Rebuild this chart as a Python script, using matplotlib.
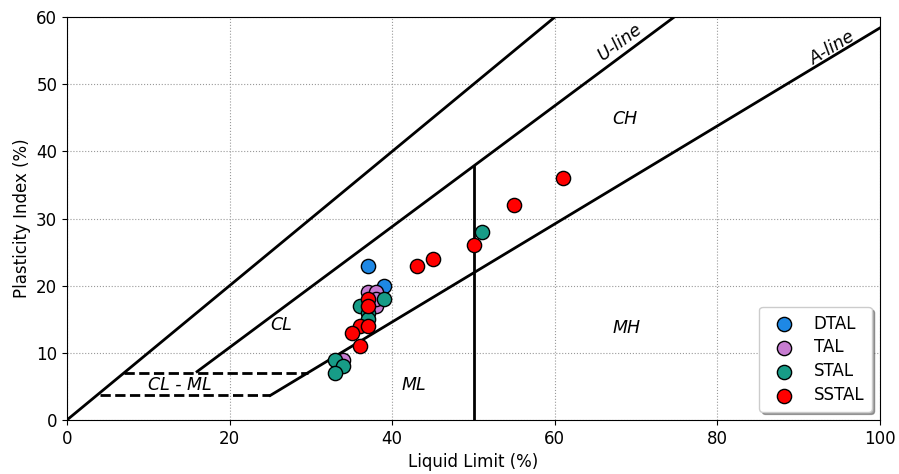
import matplotlib
matplotlib.use("Agg")
import matplotlib.pyplot as plt
import numpy as np

# liquid limit / plasticity index per group
dtal_ll = [37, 39]
dtal_pi = [23, 20]
tal_ll = [37, 38, 38, 38, 34]
tal_pi = [19, 19, 17, 18, 9]
stal_ll = [39, 36, 37, 37, 33, 34, 33, 51]
stal_pi = [18, 17, 16, 15, 9, 8, 7, 28]
sstal_ll = [37, 37, 36, 35, 37, 36, 43, 45, 50, 55, 61]
sstal_pi = [18, 17, 14, 13, 14, 11, 23, 24, 26, 32, 36]

groups = [
    ("DTAL", dtal_ll, dtal_pi, "#1e88e5"),
    ("TAL", tal_ll, tal_pi, "#c77cd1"),
    ("STAL", stal_ll, stal_pi, "#179c87"),
    ("SSTAL", sstal_ll, sstal_pi, "#ff0000"),
]

fig = plt.figure(figsize=(8.99, 4.74), dpi=100)
ax = fig.add_axes([0.0745, 0.114, 0.9045, 0.85])

# chart boundaries
ll = np.array([0, 60])
ax.plot(ll, ll, color="black", lw=2)
u_ll = np.array([16, 74.67])
ax.plot(u_ll, 0.9 * (u_ll - 8), color="black", lw=2)
a_ll = np.array([25, 100])
ax.plot(a_ll, 0.73 * (a_ll - 20), color="black", lw=2)
ax.plot([50, 50], [0, 0.9 * (50 - 8)], color="black", lw=2)
ax.plot([7, 29.6], [7, 7], color="black", lw=2, ls="--")
ax.plot([4, 25], [3.65, 3.65], color="black", lw=2, ls="--")

for name, x, y, c in groups:
    ax.scatter(x, y, s=105, color=c, edgecolor="black", linewidth=1,
               label=name, zorder=3)

txt = dict(fontsize=12.5, style="italic", ha="center", va="center")
ax.text(68, 56.3, "U-line", rotation=36.6, **txt)
ax.text(94.1, 55.4, "A-line", rotation=31, **txt)
ax.text(68.6, 44.8, "CH", **txt)
ax.text(26.3, 14.1, "CL", **txt)
ax.text(68.8, 13.7, "MH", **txt)
ax.text(42.6, 5.2, "ML", **txt)
ax.text(13.9, 5.2, "CL - ML", **txt)

ax.set_xlim(0, 100)
ax.set_ylim(0, 60)
ax.set_xlabel("Liquid Limit (%)", fontsize=12)
ax.set_ylabel("Plasticity Index (%)", fontsize=12)
ax.tick_params(labelsize=12)
ax.grid(True, color="#999999", ls=":", lw=0.8)
ax.legend(loc="lower right", fontsize=12, shadow=True, borderpad=0.45,
          labelspacing=0.35)

fig.savefig("out.png", dpi=100)
